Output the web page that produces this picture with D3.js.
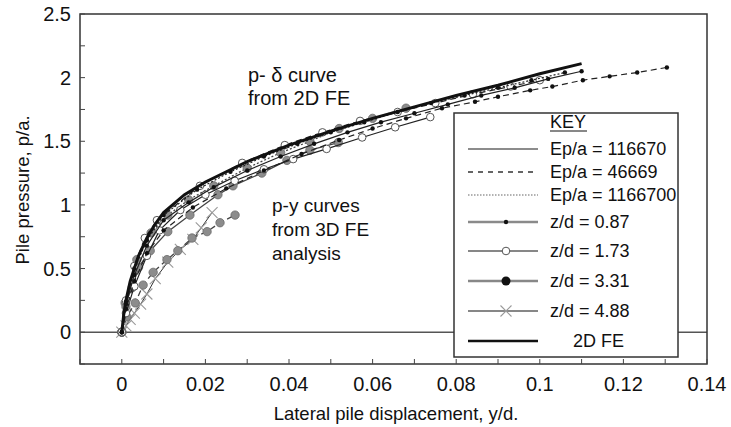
<!DOCTYPE html>
<html>
<head>
<meta charset="utf-8">
<script src="https://cdn.jsdelivr.net/npm/d3@7"></script>
<style>
  body { margin: 0; background: #fff; }
  svg text { font-family: "Liberation Sans", Arial, sans-serif; fill: #111; }
</style>
</head>
<body>
<svg id="chart" width="731" height="427"></svg>
<script>
// values (x = y/d, y = p/a)
const xTicks = [0, 0.02, 0.04, 0.06, 0.08, 0.1, 0.12, 0.14]
const xMinor = [-0.01, 0.01, 0.03, 0.05, 0.07, 0.09, 0.11, 0.13]
const yTicks = [0, 0.5, 1, 1.5, 2, 2.5]
const yMinor = [-0.25, 0.25, 0.75, 1.25, 1.75, 2.25]

const fe2d = [[0,0],[0.0005,0.15],[0.001,0.25],[0.002,0.4],[0.003,0.5],[0.004,0.6],[0.006,0.74],[0.008,0.85],[0.01,0.94],[0.015,1.08],[0.02,1.18],[0.03,1.34],[0.04,1.47],[0.05,1.58],[0.06,1.68],[0.07,1.77],[0.08,1.86],[0.09,1.94],[0.1,2.03],[0.11,2.11]]

const z087solid = [[0,0],[0.001,0.22],[0.003,0.45],[0.006,0.68],[0.01,0.88],[0.016,1.02],[0.022,1.14],[0.03,1.27],[0.038,1.38],[0.046,1.48],[0.054,1.57],[0.062,1.65],[0.07,1.72],[0.078,1.79],[0.086,1.86],[0.094,1.92],[0.102,1.99],[0.11,2.05]]
const z087dash = [[0,0],[0.001,0.18],[0.003,0.4],[0.006,0.62],[0.01,0.8],[0.017,0.98],[0.025,1.13],[0.034,1.27],[0.043,1.4],[0.052,1.51],[0.06,1.6],[0.068,1.68],[0.0766,1.76],[0.0845,1.81],[0.09,1.85],[0.0977,1.9],[0.103,1.93],[0.1103,1.98],[0.1167,2.01],[0.1233,2.04],[0.1304,2.08]]
const z087dot = [[0,0],[0.001,0.24],[0.003,0.5],[0.006,0.72],[0.01,0.92],[0.018,1.12],[0.026,1.26],[0.034,1.38],[0.042,1.48],[0.05,1.57],[0.058,1.65],[0.066,1.73],[0.074,1.8],[0.082,1.86],[0.09,1.92],[0.098,1.98],[0.106,2.04]]

const z173solid = [[0,0],[0.001,0.15],[0.003,0.36],[0.006,0.6],[0.009,0.8],[0.014,0.96],[0.02,1.08],[0.027,1.19],[0.034,1.28],[0.041,1.36],[0.049,1.44],[0.0575,1.53],[0.0654,1.61],[0.0738,1.69]]
const z173dash = [[0,0],[0.001,0.25],[0.003,0.52],[0.0055,0.74],[0.0084,0.88],[0.0187,1.15],[0.0288,1.33],[0.039,1.47],[0.048,1.57],[0.057,1.66],[0.066,1.73],[0.075,1.8],[0.084,1.87],[0.093,1.93],[0.1,1.98]]

const z331upper = [[0,0],[0.001,0.2],[0.0036,0.57],[0.007,0.78],[0.011,0.92],[0.016,1.04],[0.022,1.15],[0.03,1.29],[0.038,1.41],[0.045,1.5],[0.052,1.6],[0.06,1.68],[0.068,1.76]]
const z331mid = [[0,0],[0.0008,0.23],[0.0025,0.35],[0.004,0.51],[0.0068,0.64],[0.011,0.79],[0.0163,0.92],[0.023,1.08],[0.0266,1.15],[0.0335,1.25],[0.0395,1.35],[0.045,1.43],[0.0518,1.49]]
const z331lower = [[0,0],[0.0012,0.12],[0.0032,0.23],[0.0051,0.37],[0.0075,0.47],[0.0108,0.57],[0.0134,0.64],[0.0168,0.74],[0.0204,0.79],[0.0235,0.86],[0.0271,0.92]]

const z488 = [[0,0],[0.001,0.05],[0.002,0.1],[0.003,0.15],[0.0045,0.22],[0.006,0.3],[0.008,0.42],[0.011,0.55],[0.014,0.65],[0.017,0.73],[0.019,0.82],[0.0216,0.94]]

const legendLabels = ["Ep/a = 116670", "Ep/a = 46669", "Ep/a = 1166700", "z/d = 0.87", "z/d = 1.73", "z/d = 3.31", "z/d = 4.88", "2D FE"]

// ---- layout
const svg = d3.select("#chart")
const plot = {left: 80, right: 707, top: 14, bottom: 364}

const x = d3.scaleLinear().domain([-0.01, 0.14]).range([plot.left, plot.right])
const y = d3.scaleLinear().domain([-0.25, 2.5]).range([plot.bottom, plot.top])
const line = d3.line().x(d => x(d[0])).y(d => y(d[1]))

// styles per series
const dashes = {solid: null, dash: "6,4", dot: "2,2"}
const series = [
  {data: z488, mark: "cross", dash: "solid", stroke: "#333", w: 1},
  {data: z331lower, mark: "gray", dash: "dash", stroke: "#444", w: 1.3},
  {data: z331mid, mark: "gray", dash: "solid", stroke: "#444", w: 1.3},
  {data: z331upper, mark: "gray", dash: "dot", stroke: "#444", w: 1.3},
  {data: z173solid, mark: "open", dash: "solid", stroke: "#222", w: 1.2},
  {data: z173dash, mark: "open", dash: "dash", stroke: "#222", w: 1.2},
  {data: z087dash, mark: "dot", dash: "dash", stroke: "#222", w: 1.2},
  {data: z087solid, mark: "dot", dash: "solid", stroke: "#222", w: 1.2},
  {data: z087dot, mark: "dot", dash: "dot", stroke: "#222", w: 1.2}
]

function drawMark(g, kind, cx, cy) {
  if (kind == "dot") {
    g.append("circle").attr("cx", cx).attr("cy", cy).attr("r", 2.2).attr("fill", "#111")
  } else if (kind == "open") {
    g.append("circle").attr("cx", cx).attr("cy", cy).attr("r", 3.8).attr("fill", "#fff").attr("stroke", "#555").attr("stroke-width", 1)
  } else if (kind == "gray") {
    g.append("circle").attr("cx", cx).attr("cy", cy).attr("r", 4.2).attr("fill", "#8c8c8c").attr("stroke", "#6a6a6a").attr("stroke-width", 0.8)
  } else if (kind == "grayLegend") {
    g.append("circle").attr("cx", cx).attr("cy", cy).attr("r", 4.5).attr("fill", "#111")
  } else if (kind == "cross") {
    const s = 5.5
    g.append("path").attr("d", `M${cx-s},${cy-s}L${cx+s},${cy+s}M${cx-s},${cy+s}L${cx+s},${cy-s}`)
      .attr("stroke", "#9a9a9a").attr("stroke-width", 1.1)
  }
}

// y = 0 line
svg.append("line").attr("x1", plot.left).attr("x2", plot.right).attr("y1", y(0)).attr("y2", y(0))
  .attr("stroke", "#555").attr("stroke-width", 1.5)

// curves
const curves = svg.append("g")
series.forEach(s => {
  curves.append("path").attr("d", line(s.data)).attr("fill", "none")
    .attr("stroke", s.stroke).attr("stroke-width", s.w)
    .attr("stroke-dasharray", dashes[s.dash])
  const mg = curves.append("g")
  s.data.forEach(p => drawMark(mg, s.mark, x(p[0]), y(p[1])))
})
// thick p-delta curve
curves.append("path").attr("d", line(fe2d)).attr("fill", "none").attr("stroke", "#111").attr("stroke-width", 3)

// frame + ticks
svg.append("rect").attr("x", plot.left).attr("y", plot.top).attr("width", plot.right - plot.left).attr("height", plot.bottom - plot.top)
  .attr("fill", "none").attr("stroke", "#333").attr("stroke-width", 1.5)

svg.append("g").selectAll("line").data(xTicks.concat(xMinor)).join("line")
  .attr("x1", d => x(d)).attr("x2", d => x(d)).attr("y1", plot.bottom).attr("y2", plot.bottom - 5)
  .attr("stroke", "#444").attr("stroke-width", 1)
svg.append("g").selectAll("line").data(yTicks.concat(yMinor)).join("line")
  .attr("x1", plot.left).attr("x2", plot.left + 5).attr("y1", d => y(d)).attr("y2", d => y(d))
  .attr("stroke", "#444").attr("stroke-width", 1)

svg.append("g").selectAll("text").data(xTicks).join("text")
  .attr("x", d => x(d)).attr("y", 391).attr("text-anchor", "middle").attr("font-size", 20)
  .text(d => d3.format("")(d))
svg.append("g").selectAll("text").data(yTicks).join("text")
  .attr("x", 71).attr("y", d => y(d) + 7).attr("text-anchor", "end").attr("font-size", 20)
  .text(d => d3.format("")(d))

// axis titles
svg.append("text").attr("x", 396).attr("y", 420).attr("text-anchor", "middle").attr("font-size", 18.5)
  .text("Lateral pile displacement, y/d.")
svg.append("text").attr("transform", "translate(29,190) rotate(-90)").attr("text-anchor", "middle").attr("font-size", 18.5)
  .text("Pile pressure, p/a.")

// annotations
const note1 = svg.append("text").attr("font-size", 20)
note1.append("tspan").attr("x", 248).attr("y", 82).text("p- δ curve")
note1.append("tspan").attr("x", 248).attr("y", 105).text("from 2D FE")
const note2 = svg.append("text").attr("font-size", 19)
note2.append("tspan").attr("x", 272).attr("y", 212).text("p-y curves")
note2.append("tspan").attr("x", 272).attr("y", 236).text("from 3D FE")
note2.append("tspan").attr("x", 272).attr("y", 260).text("analysis")

// legend
const lg = svg.append("g")
lg.append("rect").attr("x", 454).attr("y", 113).attr("width", 224).attr("height", 244)
  .attr("fill", "#fff").attr("stroke", "#333").attr("stroke-width", 1.5)
lg.append("text").attr("x", 550).attr("y", 128).attr("font-size", 18).text("KEY")
lg.append("line").attr("x1", 550).attr("x2", 587).attr("y1", 131).attr("y2", 131).attr("stroke", "#111").attr("stroke-width", 1)

const rowY = [155, 178, 201, 228, 257, 287, 317, 347]
const rowStyle = [
  {stroke: "#666", w: 1.6, dash: null, mark: null},
  {stroke: "#333", w: 1.3, dash: "5,5", mark: null},
  {stroke: "#999", w: 1.6, dash: "1.5,1.5", mark: null},
  {stroke: "#8a8a8a", w: 2.6, dash: null, mark: "dot"},
  {stroke: "#111", w: 1.2, dash: null, mark: "open"},
  {stroke: "#888", w: 2.6, dash: null, mark: "grayLegend"},
  {stroke: "#111", w: 1.2, dash: null, mark: "cross"},
  {stroke: "#111", w: 2.6, dash: null, mark: null}
]
legendLabels.forEach((lab, i) => {
  const ly = rowY[i] - 6
  const st = rowStyle[i]
  lg.append("line").attr("x1", 468).attr("x2", 538).attr("y1", ly).attr("y2", ly)
    .attr("stroke", st.stroke).attr("stroke-width", st.w).attr("stroke-dasharray", st.dash)
  if (st.mark) drawMark(lg, st.mark, 506, ly)
  lg.append("text").attr("x", i == 7 ? 573 : 550).attr("y", rowY[i]).attr("font-size", 18).text(lab)
})
</script>
</body>
</html>
